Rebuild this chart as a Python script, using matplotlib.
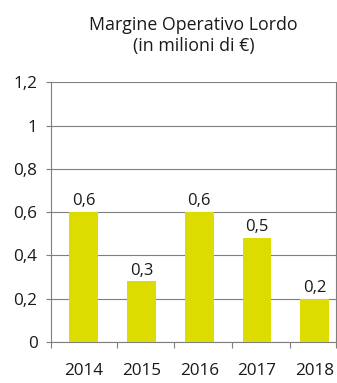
import numpy as np
import matplotlib
matplotlib.use("Agg")
import matplotlib.pyplot as plt
from matplotlib.ticker import FixedLocator, FuncFormatter

# data
years = ["2014", "2015", "2016", "2017", "2018"]
values = [0.6, 0.28, 0.6, 0.48, 0.2]
value_labels = ["0,6", "0,3", "0,6", "0,5", "0,2"]

plt.rcParams['font.family'] = ['Open Sans', 'DejaVu Sans']
bar_color = '#dcdc00'
line_color = '#7f7f7f'

fig = plt.figure(figsize=(3.37, 3.83), dpi=100)
ax = fig.add_axes([0.1504, 0.107, 0.8457, 0.678])

x = np.arange(len(years)) - 0.07
ax.bar(x, values, width=0.5, color=bar_color, zorder=3)

for xi, v, lab in zip(x, values, value_labels):
    ax.annotate(lab, (xi, v), xytext=(0, 2), textcoords='offset points',
                ha='center', va='bottom', fontsize=12, color='#1a1a1a')

ax.set_ylim(0, 1.2)
ax.set_xlim(-0.644, 4.292)
ax.set_yticks(np.arange(0, 1.21, 0.2))
ax.yaxis.set_major_formatter(FuncFormatter(
    lambda v, p: ('%g' % round(v, 1)).replace('.', ',')))
ax.yaxis.grid(True, color=line_color, linewidth=0.8, zorder=0)

# tick marks on category boundaries, labels under the bars
ax.xaxis.set_major_locator(FixedLocator([-0.644, 0.5, 1.5, 2.5, 3.5, 4.292]))
ax.xaxis.set_major_formatter(FuncFormatter(lambda v, p: ''))
ax.set_xticks(x, minor=True)
ax.set_xticklabels(years, minor=True)
ax.tick_params(axis='x', which='major', length=4.5, width=0.8, color=line_color, direction='out')
ax.tick_params(axis='x', which='minor', length=0, pad=15, labelsize=12.3, labelcolor='#1a1a1a')
ax.tick_params(axis='y', length=3.5, width=0.8, color=line_color, pad=6,
               labelsize=12.3, labelcolor='#1a1a1a')

for s in ['left', 'right', 'bottom']:
    ax.spines[s].set_color(line_color)
    ax.spines[s].set_linewidth(0.8)
ax.spines['top'].set_visible(False)

fig.text(0.575, 0.957, "Margine Operativo Lordo\n(in milioni di €)", ha='center', va='top',
         fontsize=12.8, color='#1a1a1a', linespacing=1.15)

fig.savefig("out.png", dpi=100)
